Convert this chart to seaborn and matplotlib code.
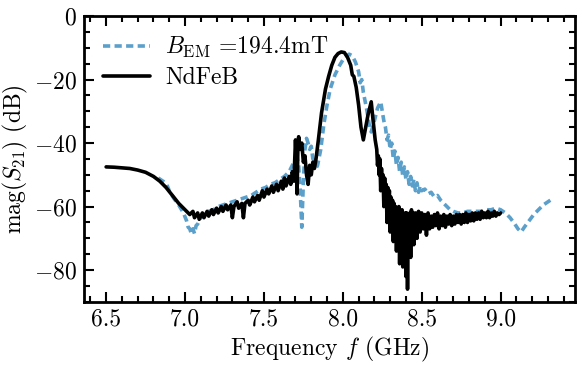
import numpy as np
import pandas as pd
import matplotlib
matplotlib.use("Agg")
import matplotlib.pyplot as plt
from matplotlib.ticker import MultipleLocator
import seaborn as sns

# NdFeB trace (frequency in GHz, |S21| in dB)
f_ndfeb = [6.50, 6.55, 6.60, 6.65, 6.70, 6.75, 6.80, 6.84, 6.88, 6.92, 6.96, 6.99, 7.01, 7.03,
           7.05, 7.06, 7.08, 7.09, 7.11, 7.12, 7.14, 7.15, 7.17, 7.18, 7.20, 7.21, 7.23, 7.24,
           7.26, 7.27, 7.29, 7.30, 7.31, 7.33, 7.34, 7.36, 7.37, 7.38, 7.40, 7.41, 7.43, 7.44,
           7.46, 7.47, 7.49, 7.50, 7.52, 7.53, 7.55, 7.56, 7.58, 7.59, 7.61, 7.62, 7.63, 7.64,
           7.66, 7.67, 7.68, 7.69, 7.70, 7.705, 7.71, 7.715, 7.72, 7.73, 7.74, 7.75, 7.76, 7.77,
           7.78, 7.79, 7.80, 7.81, 7.82, 7.83, 7.845, 7.865, 7.89, 7.91, 7.93, 7.95, 7.97, 7.99,
           8.01, 8.03, 8.05, 8.06, 8.07, 8.085, 8.10, 8.115, 8.13, 8.145, 8.16, 8.18, 8.19, 8.205,
           8.215, 8.22, 8.225, 8.23, 8.235, 8.24, 8.245, 8.25, 8.255, 8.26, 8.265, 8.27, 8.275, 8.28,
           8.285, 8.29, 8.295, 8.30, 8.305, 8.31, 8.315, 8.32, 8.325, 8.33, 8.335, 8.34, 8.345, 8.35,
           8.355, 8.36, 8.365, 8.37, 8.375, 8.38, 8.385, 8.39, 8.395, 8.40, 8.405, 8.41, 8.415, 8.42,
           8.425, 8.43, 8.435, 8.44, 8.445, 8.45, 8.46, 8.47,
           8.48, 8.49, 8.50, 8.51, 8.52, 8.53, 8.54, 8.55, 8.56, 8.57, 8.58, 8.59, 8.60, 8.61,
           8.62, 8.63, 8.64, 8.65, 8.66, 8.67, 8.68, 8.69, 8.70, 8.71, 8.72, 8.73, 8.74, 8.75,
           8.76, 8.77, 8.78, 8.79, 8.80, 8.81, 8.82, 8.83, 8.84, 8.85, 8.86, 8.87, 8.88, 8.89,
           8.90, 8.91, 8.92, 8.93, 8.94, 8.95, 8.96, 8.97, 8.98, 8.99, 9.00]
s21_ndfeb = [-47.5, -47.6, -47.8, -48.0, -48.5, -49.2, -50.5, -52.0, -54.0, -56.5, -59.0, -60.5, -61.5, -62.5,
             -61.5, -63.5, -62.0, -64.0, -62.0, -63.5, -61.5, -63.0, -61.0, -62.5, -60.5, -62.0, -60.0, -61.5,
             -59.5, -61.0, -59.5, -63.5, -60.0, -58.5, -60.5, -59.0, -63.5, -59.0, -58.0, -59.5, -57.0, -58.5,
             -56.5, -58.0, -55.0, -57.0, -54.5, -56.0, -53.5, -55.5, -53.0, -55.0, -52.0, -54.5, -51.0, -53.5,
             -50.5, -53.0, -49.0, -52.0, -39.0, -45.0, -56.0, -42.0, -38.0, -42.0, -40.0, -46.0, -44.0, -50.0,
             -53.0, -47.0, -50.0, -46.0, -48.0, -45.0, -39.0, -30.5, -23.0, -19.0, -15.5, -13.0, -11.8, -11.3,
             -11.5, -13.0, -15.5, -18.5, -19.0, -22.5, -28.0, -35.0, -39.0, -35.0, -31.0, -27.0, -32.0, -39.0,
             -42.0, -47.0, -44.0, -50.0, -45.0, -55.0, -48.0, -53.0, -50.0, -60.0, -51.0, -57.0, -53.0, -65.0,
             -54.0, -60.0, -55.0, -68.0, -57.0, -63.0, -58.0, -71.0, -59.0, -66.0, -60.0, -74.0, -61.0, -69.0,
             -60.0, -78.0, -62.0, -72.0, -61.0, -79.0, -63.0, -70.0, -62.0, -82.0, -62.0, -86.0, -64.0, -74.0,
             -62.0, -76.0, -61.0, -70.0, -62.0, -72.0, -62.0, -70.0,
             -61.5, -68.0, -62.0, -67.0, -62.5, -69.0, -62.0, -67.0, -63.0, -66.5, -62.5, -66.0, -62.0, -67.0,
             -63.0, -66.0, -62.5, -66.5, -63.0, -65.5, -62.5, -66.0, -63.0, -65.5, -62.5, -65.0, -62.5, -65.5,
             -62.5, -65.0, -62.0, -65.0, -62.5, -64.5, -62.0, -64.5, -62.0, -64.0, -62.0, -64.0, -61.5, -63.5,
             -62.0, -63.5, -61.5, -63.5, -62.0, -63.0, -61.5, -63.0, -62.0, -62.5, -62.0]

# electromagnet trace, B_EM = 194.4 mT
f_em = [6.83, 6.86, 6.88, 6.90, 6.93, 6.96, 6.99, 7.01, 7.02, 7.03, 7.04, 7.05, 7.06, 7.07,
        7.08, 7.10, 7.12, 7.15, 7.18, 7.21, 7.24, 7.27, 7.30, 7.33, 7.36, 7.39, 7.42, 7.45,
        7.48, 7.51, 7.54, 7.57, 7.60, 7.63, 7.66, 7.69, 7.71, 7.72, 7.73, 7.74, 7.75, 7.76,
        7.77, 7.78, 7.79, 7.80, 7.81, 7.82, 7.83, 7.84, 7.86, 7.88, 7.90, 7.92, 7.95, 7.98,
        8.01, 8.04, 8.06, 8.08, 8.10, 8.11, 8.12, 8.13, 8.15, 8.17, 8.18, 8.20, 8.22, 8.24,
        8.25, 8.26, 8.27, 8.28, 8.29, 8.30, 8.31, 8.32, 8.33, 8.34, 8.35, 8.36, 8.37, 8.38,
        8.39, 8.40, 8.41, 8.42, 8.43, 8.44, 8.45, 8.46, 8.47, 8.48, 8.49, 8.50, 8.52, 8.54,
        8.56, 8.58, 8.60, 8.62, 8.64, 8.66, 8.68, 8.70, 8.73, 8.76, 8.79, 8.82, 8.85, 8.88,
        8.91, 8.94, 8.97, 9.00, 9.03, 9.06, 9.09, 9.11, 9.13, 9.15, 9.18, 9.21, 9.24, 9.27,
        9.30, 9.33]
s21_em = [-51.0, -52.0, -52.5, -55.0, -57.5, -59.5, -62.0, -64.5, -66.5, -67.0, -68.5, -67.0, -68.5, -66.0,
          -65.5, -63.5, -62.5, -61.5, -61.0, -60.0, -59.5, -59.0, -58.5, -58.0, -57.5, -57.0, -56.5, -55.5,
          -54.5, -54.0, -53.0, -52.5, -51.5, -50.5, -49.0, -46.0, -44.5, -47.0, -55.0, -66.5, -52.0, -42.0,
          -38.5, -40.0, -42.0, -41.0, -45.0, -44.0, -48.0, -47.0, -42.0, -34.0, -28.0, -23.0, -18.5, -15.5,
          -13.0, -12.0, -12.5, -14.5, -17.5, -21.0, -20.0, -24.0, -29.0, -35.0, -36.5, -33.0, -29.0, -27.0,
          -30.0, -33.0, -35.0, -39.0, -37.5, -42.0, -40.0, -45.0, -42.5, -47.0, -44.5, -49.0, -46.0, -50.5,
          -47.5, -51.5, -49.0, -53.0, -50.5, -53.5, -51.5, -55.0, -52.5, -55.5, -53.5, -55.0, -54.5, -56.0,
          -55.5, -57.0, -56.5, -58.0, -59.0, -60.0, -61.0, -61.5, -62.0, -62.0, -61.5, -61.5, -61.5, -61.5,
          -61.0, -61.0, -60.5, -61.0, -62.0, -63.5, -65.5, -67.0, -68.0, -66.5, -64.5, -62.5, -61.0, -59.5,
          -58.5, -57.5]

sns.set_style("ticks")
plt.rcParams["font.family"] = ["cmr10", "DejaVu Serif"]
plt.rcParams["mathtext.fontset"] = "cm"
plt.rcParams["axes.formatter.use_mathtext"] = True
plt.rcParams["axes.unicode_minus"] = True
for key in ["text.color", "axes.labelcolor", "xtick.color", "ytick.color", "axes.edgecolor"]:
    plt.rcParams[key] = "black"

fig, ax = plt.subplots(figsize=(5.82, 3.65), dpi=100)
fig.subplots_adjust(left=0.144, right=0.988, bottom=0.173, top=0.956)

df_em = pd.DataFrame({"f": f_em, "s21": s21_em})
df_nd = pd.DataFrame({"f": f_ndfeb, "s21": s21_ndfeb})

sns.lineplot(data=df_em, x="f", y="s21", ax=ax, color="#5b9fcb", lw=2.6,
             linestyle=(0, (2.0, 1.2)), estimator=None, label=r"$B_{\rm EM}$ =194.4mT")
sns.lineplot(data=df_nd, x="f", y="s21", ax=ax, color="black", lw=2.6,
             estimator=None, label="NdFeB")

ax.set_ylim(-90, 0)
ax.set_xlabel(r"Frequency $f$ (GHz)", fontsize=17, labelpad=3)
ax.set_ylabel(r"mag$(S_{21})$ (dB)", fontsize=17, labelpad=3)

ax.xaxis.set_major_locator(MultipleLocator(0.5))
ax.xaxis.set_minor_locator(MultipleLocator(0.1))
ax.yaxis.set_major_locator(MultipleLocator(20))
ax.yaxis.set_minor_locator(MultipleLocator(5))
ax.xaxis.set_major_formatter(matplotlib.ticker.FormatStrFormatter("%.1f"))
ax.tick_params(which="both", direction="in", top=True, right=True, labelsize=17, width=1.5)
ax.tick_params(which="major", length=7, pad=5)
ax.tick_params(which="minor", length=4)
for s in ax.spines.values():
    s.set_linewidth(2)

ax.legend(loc="upper left", frameon=False, fontsize=17, handlelength=2.0,
          handletextpad=0.65, borderaxespad=0.4, labelspacing=0.3)

fig.savefig("out.png", dpi=100)
